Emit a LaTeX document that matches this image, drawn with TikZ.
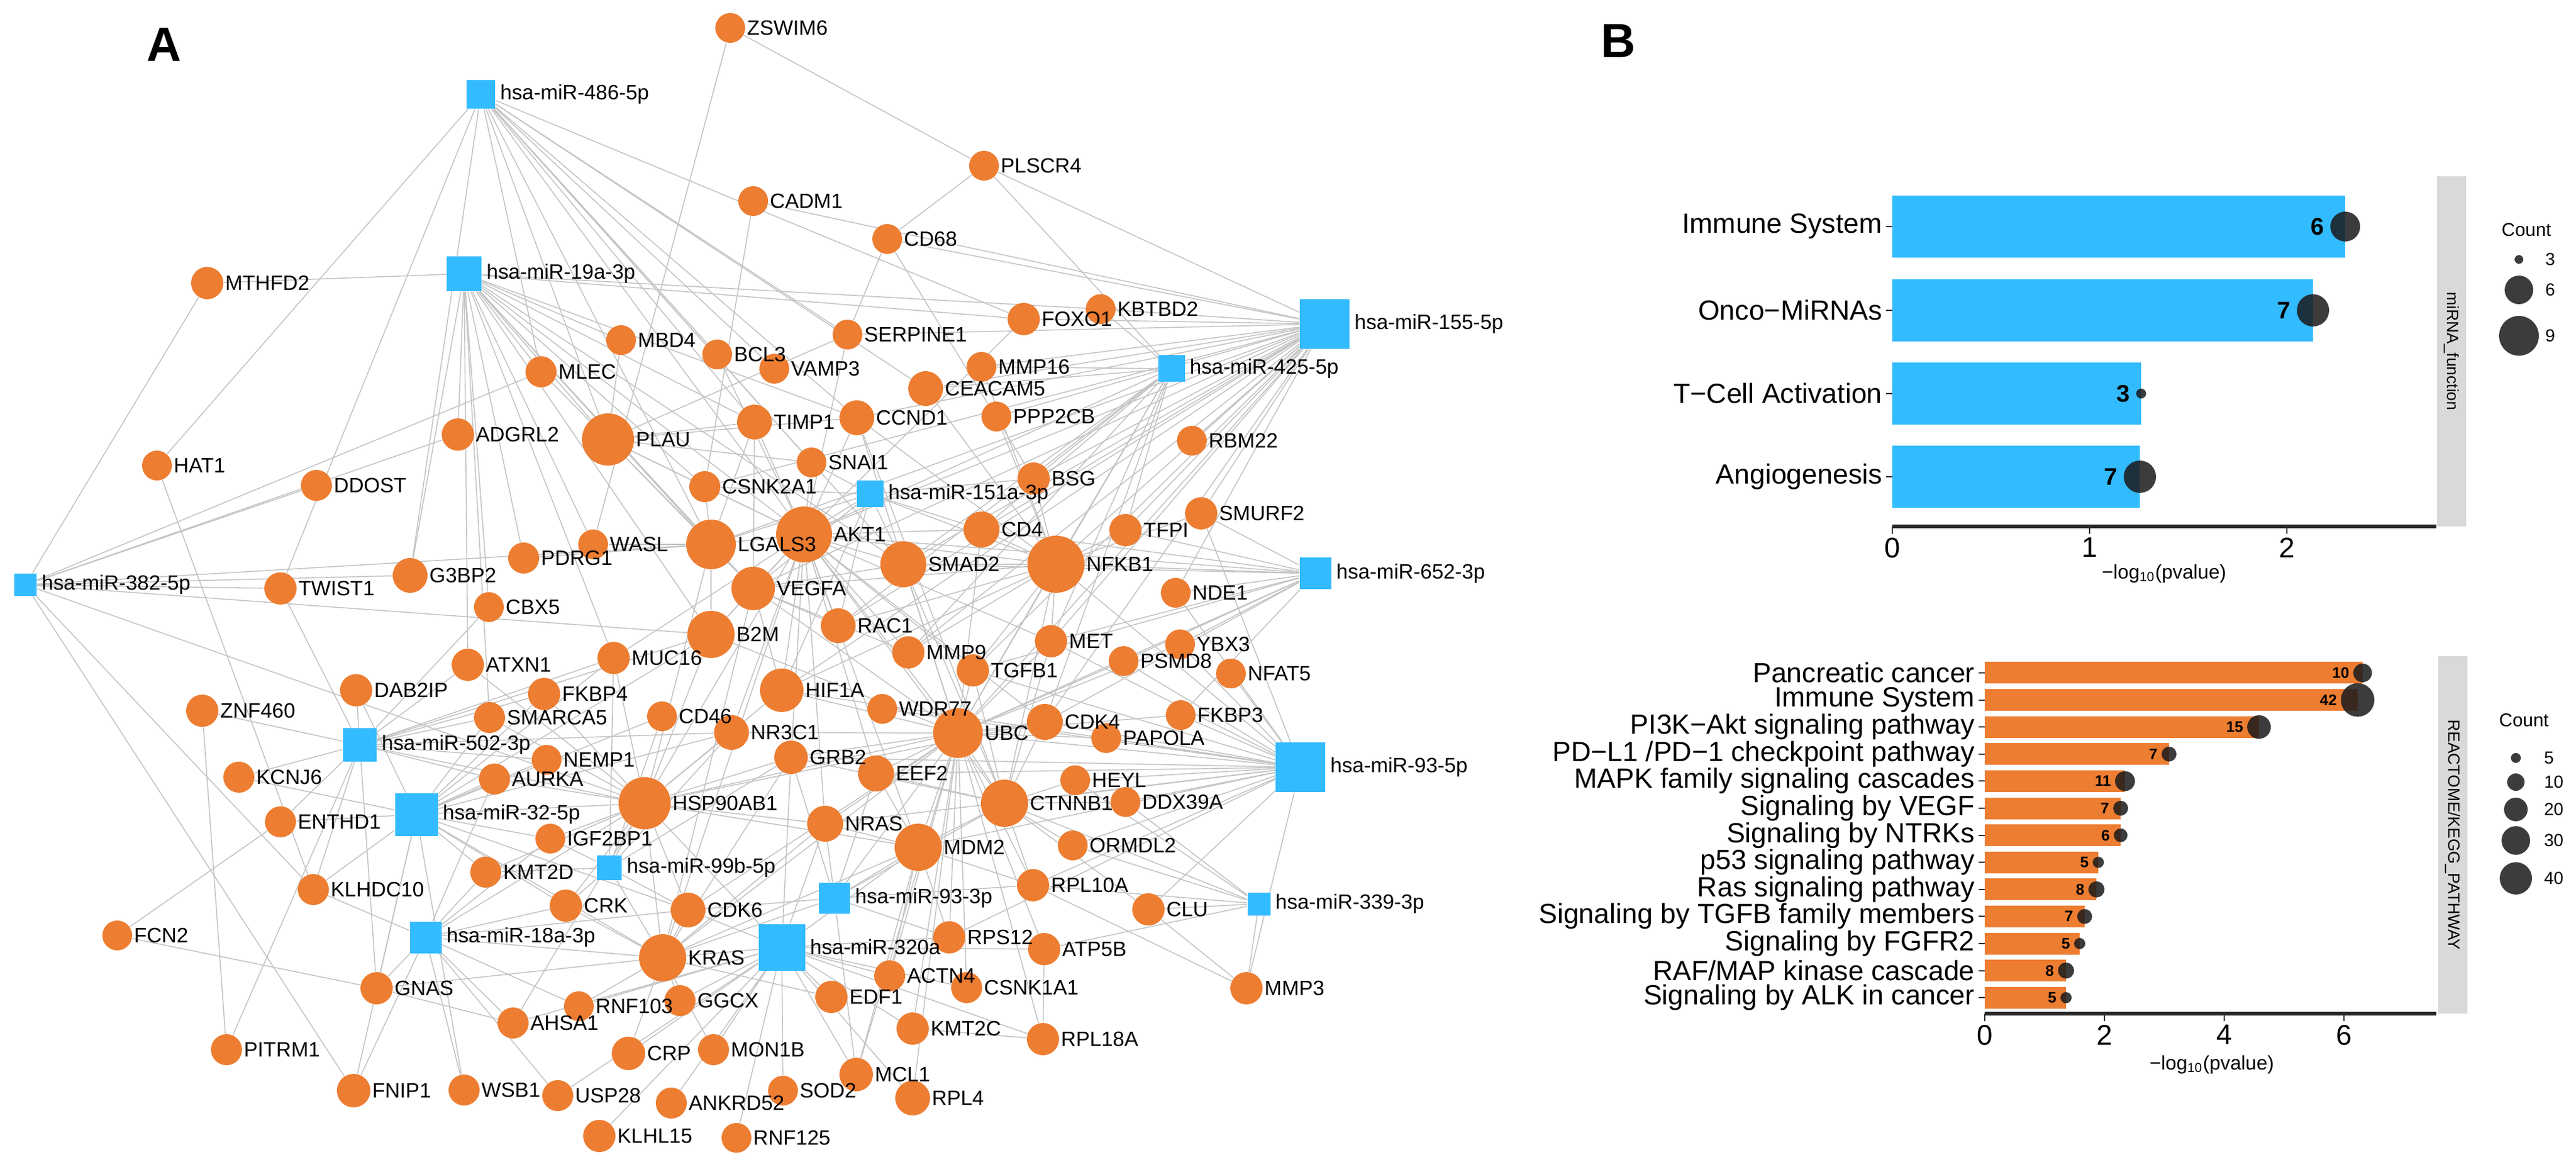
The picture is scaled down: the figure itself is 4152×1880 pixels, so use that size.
\documentclass[tikz,border=0pt]{standalone}
\usepackage{fontspec}
\setmainfont{Liberation Sans}
\usetikzlibrary{positioning}
\definecolor{gor}{HTML}{ED7D31}
\definecolor{mblue}{HTML}{33BBFF}
\definecolor{edgec}{HTML}{C4C4C4}
\definecolor{stripc}{HTML}{D9D9D9}
\definecolor{dotc}{HTML}{1A1A1A}
\pgfdeclarelayer{bg}
\pgfdeclarelayer{fg}
\pgfsetlayers{bg,main,fg}
\newcommand\gnode[4]{\node[gene,minimum size={2*#4*0.01cm}] (#1) at (#2,#3) {};\begin{pgfonlayer}{fg}\node[glab] (#1-l) at (#1.east) {#1};\end{pgfonlayer}}
\newcommand\mnode[5]{\node[mir,minimum size={#4*0.01cm}] (#1) at (#2,#3) {};\begin{pgfonlayer}{fg}\node[glab,xshift=1.5pt] (#1-l) at (#1.east) {#5};\end{pgfonlayer}}
\begin{document}
\begin{tikzpicture}[x=0.01cm,y=-0.01cm,
  gene/.style={circle,fill=gor,draw=none,inner sep=0pt},
  mir/.style={rectangle,fill=mblue,draw=none,inner sep=0pt},
  glab/.style={anchor=west,inner sep=0.5pt,font=\fontsize{9.5}{10}\selectfont},
  edge/.style={draw=edgec,line width=0.45pt},
  cat/.style={anchor=east,inner sep=1pt,font=\fontsize{12.7}{13}\selectfont},
  tick/.style={anchor=north,inner sep=1pt,font=\fontsize{13}{13}\selectfont},
  dot/.style={circle,fill=dotc,fill opacity=0.85,draw=none,inner sep=0pt},
  num/.style={anchor=east,inner sep=0.5pt,font=\bfseries\fontsize{11}{12}\selectfont},
  snum/.style={anchor=east,inner sep=0.5pt,font=\bfseries\fontsize{7}{8}\selectfont},
  leg/.style={anchor=west,inner sep=0.5pt,font=\fontsize{8}{9}\selectfont},
  panel/.style={font=\bfseries\fontsize{22}{24}\selectfont,inner sep=0pt}]
\useasboundingbox (0,0) rectangle (4152,1880);
\node[panel] (A) at (264,72) {A};
\node[panel] (B) at (2608,66) {B};
% miRNAs
\mnode{m486}{775}{152}{46}{hsa-miR-486-5p}
\mnode{m19a}{748}{441}{56}{hsa-miR-19a-3p}
\mnode{m155}{2135}{522}{80}{hsa-miR-155-5p}
\mnode{m425}{1888}{594}{43}{hsa-miR-425-5p}
\mnode{m151}{1402}{796}{43}{hsa-miR-151a-3p}
\mnode{m652}{2120}{924}{51}{hsa-miR-652-3p}
\mnode{m382}{41}{942}{36}{hsa-miR-382-5p}
\mnode{m502}{580}{1200}{54}{hsa-miR-502-3p}
\mnode{m935}{2096}{1236}{80}{hsa-miR-93-5p}
\mnode{m32}{671}{1312}{69}{hsa-miR-32-5p}
\mnode{m99b}{982}{1398}{40}{hsa-miR-99b-5p}
\mnode{m933}{1345}{1447}{50}{hsa-miR-93-3p}
\mnode{m339}{2029}{1456}{37}{hsa-miR-339-3p}
\mnode{m18a}{686}{1510}{51}{hsa-miR-18a-3p}
\mnode{m320}{1260}{1526}{75}{hsa-miR-320a}
% genes
\gnode{ZSWIM6}{1177}{45}{24}
\gnode{PLSCR4}{1586}{267}{24}
\gnode{CADM1}{1214}{324}{24}
\gnode{CD68}{1430}{385}{24}
\gnode{MTHFD2}{334}{456}{26}
\gnode{FOXO1}{1650}{514}{26}
\gnode{KBTBD2}{1774}{498}{24}
\gnode{SERPINE1}{1366}{539}{24}
\gnode{MBD4}{1001}{548}{24}
\gnode{BCL3}{1156}{571}{24}
\gnode{VAMP3}{1248}{594}{24}
\gnode{MLEC}{872}{599}{25}
\gnode{MMP16}{1582}{591}{24}
\gnode{CEACAM5}{1492}{626}{28}
\gnode{TIMP1}{1216}{680}{28}
\gnode{CCND1}{1381}{673}{28}
\gnode{PPP2CB}{1606}{671}{24}
\gnode{ADGRL2}{738}{700}{26}
\gnode{PLAU}{980}{708}{42}
\gnode{RBM22}{1921}{710}{24}
\gnode{HAT1}{253}{750}{24}
\gnode{DDOST}{510}{782}{25}
\gnode{SNAI1}{1308}{745}{24}
\gnode{CSNK2A1}{1136}{784}{25}
\gnode{BSG}{1666}{771}{26}
\gnode{SMURF2}{1936}{827}{26}
\gnode{TFPI}{1814}{854}{26}
\gnode{PDRG1}{844}{899}{25}
\gnode{WASL}{956}{877}{24}
\gnode{LGALS3}{1146}{877}{40}
\gnode{AKT1}{1296}{861}{45}
\gnode{CD4}{1582}{853}{29}
\gnode{SMAD2}{1456}{909}{37}
\gnode{NFKB1}{1702}{909}{46}
\gnode{NDE1}{1895}{955}{24}
\gnode{G3BP2}{661}{927}{28}
\gnode{TWIST1}{452}{948}{26}
\gnode{CBX5}{788}{978}{24}
\gnode{VEGFA}{1214}{948}{35}
\gnode{B2M}{1146}{1022}{38}
\gnode{RAC1}{1351}{1008}{28}
\gnode{MET}{1694}{1033}{26}
\gnode{YBX3}{1902}{1038}{24}
\gnode{PSMD8}{1811}{1065}{24}
\gnode{NFAT5}{1984}{1085}{24}
\gnode{ATXN1}{754}{1071}{26}
\gnode{MUC16}{989}{1060}{26}
\gnode{MMP9}{1464}{1051}{26}
\gnode{TGFB1}{1568}{1080}{26}
\gnode{FKBP4}{877}{1118}{26}
\gnode{DAB2IP}{574}{1112}{26}
\gnode{ZNF460}{326}{1145}{26}
\gnode{HIF1A}{1260}{1112}{35}
\gnode{SMARCA5}{789}{1156}{25}
\gnode{CD46}{1067}{1154}{24}
\gnode{NR3C1}{1179}{1180}{28}
\gnode{WDR77}{1422}{1142}{24}
\gnode{UBC}{1544}{1181}{40}
\gnode{CDK4}{1684}{1163}{29}
\gnode{FKBP3}{1903}{1152}{24}
\gnode{PAPOLA}{1783}{1189}{24}
\gnode{KCNJ6}{385}{1252}{25}
\gnode{NEMP1}{881}{1224}{24}
\gnode{AURKA}{797}{1255}{25}
\gnode{GRB2}{1275}{1220}{27}
\gnode{EEF2}{1412}{1246}{29}
\gnode{HEYL}{1733}{1257}{24}
\gnode{DDX39A}{1814}{1292}{24}
\gnode{HSP90AB1}{1039}{1294}{42}
\gnode{CTNNB1}{1619}{1294}{38}
\gnode{ENTHD1}{452}{1324}{25}
\gnode{NRAS}{1330}{1327}{29}
\gnode{MDM2}{1480}{1365}{38}
\gnode{ORMDL2}{1729}{1362}{24}
\gnode{IGF2BP1}{887}{1351}{24}
\gnode{KMT2D}{783}{1405}{25}
\gnode{KLHDC10}{505}{1433}{25}
\gnode{RPL10A}{1665}{1426}{26}
\gnode{CRK}{912}{1459}{26}
\gnode{CDK6}{1109}{1466}{28}
\gnode{CLU}{1851}{1465}{26}
\gnode{FCN2}{189}{1507}{24}
\gnode{KRAS}{1068}{1543}{38}
\gnode{RPS12}{1530}{1510}{26}
\gnode{ATP5B}{1683}{1529}{26}
\gnode{GNAS}{607}{1592}{26}
\gnode{RNF103}{933}{1621}{24}
\gnode{GGCX}{1096}{1612}{25}
\gnode{ACTN4}{1434}{1572}{25}
\gnode{CSNK1A1}{1558}{1591}{25}
\gnode{EDF1}{1340}{1606}{26}
\gnode{MMP3}{2009}{1592}{26}
\gnode{AHSA1}{827}{1648}{25}
\gnode{PITRM1}{365}{1691}{25}
\gnode{CRP}{1013}{1697}{27}
\gnode{MON1B}{1150}{1691}{25}
\gnode{KMT2C}{1471}{1657}{26}
\gnode{RPL18A}{1681}{1674}{26}
\gnode{FNIP1}{570}{1757}{27}
\gnode{WSB1}{748}{1756}{25}
\gnode{USP28}{899}{1765}{25}
\gnode{ANKRD52}{1082}{1777}{25}
\gnode{SOD2}{1262}{1757}{24}
\gnode{MCL1}{1380}{1731}{27}
\gnode{RPL4}{1471}{1769}{28}
\gnode{KLHL15}{966}{1830}{26}
\gnode{RNF125}{1187}{1833}{24}
\begin{pgfonlayer}{bg}
\foreach \a/\bs in {
 m486/{HAT1,G3BP2,MLEC,PLAU,LGALS3,AKT1,SNAI1,CCND1,CEACAM5,FOXO1,SERPINE1,TIMP1,SMAD2,BCL3,VAMP3,TWIST1},
 m19a/{MTHFD2,MLEC,MBD4,ADGRL2,PLAU,G3BP2,PDRG1,WASL,LGALS3,CSNK2A1,TIMP1,FOXO1,KBTBD2,CCND1,SMAD2,ATXN1,CBX5,AKT1,VEGFA,B2M,SMARCA5,MUC16},
 m155/{PLSCR4,CD68,KBTBD2,FOXO1,MMP16,SERPINE1,CEACAM5,CCND1,PPP2CB,BSG,CD4,NFKB1,SMAD2,AKT1,TFPI,RBM22,SMURF2,MET,UBC,CDK4,TGFB1,RAC1,CADM1,VEGFA,HIF1A,LGALS3,CSNK2A1,MMP9,NDE1},
 m425/{MMP16,CEACAM5,BSG,TFPI,NFKB1,CD4,AKT1,SMAD2,CDK4,MET,UBC,PLSCR4,KBTBD2,RAC1,MMP9},
 m151/{AKT1,SMAD2,CD4,VEGFA,LGALS3,SNAI1,CSNK2A1,NFKB1,BSG,RAC1,HIF1A},
 m652/{NFKB1,SMURF2,TFPI,NDE1,CD4,SMAD2,MET,YBX3,UBC,CDK4,PSMD8,TGFB1,AKT1,FKBP3},
 m382/{MTHFD2,TWIST1,G3BP2,MLEC,DDOST,LGALS3,B2M,KLHDC10,FNIP1,HSP90AB1,ADGRL2},
 m502/{DAB2IP,ZNF460,KCNJ6,ENTHD1,TWIST1,ATXN1,FKBP4,SMARCA5,NEMP1,AURKA,HSP90AB1,KLHDC10,GNAS,CBX5,B2M,NR3C1,MUC16,PITRM1},
 m935/{FKBP3,PAPOLA,CDK4,UBC,HEYL,DDX39A,CTNNB1,NFAT5,PSMD8,YBX3,MET,NDE1,ORMDL2,RPL10A,CLU,MDM2,MMP3,TGFB1,NFKB1,EEF2,GRB2,NRAS,SMURF2,RPS12,WDR77,HIF1A},
 m32/{DAB2IP,ENTHD1,KCNJ6,AURKA,NEMP1,IGF2BP1,KMT2D,HSP90AB1,FKBP4,SMARCA5,CRK,GNAS,KLHDC10,WSB1,FNIP1,B2M,NR3C1,MUC16,CDK6,KRAS,CD46},
 m99b/{HSP90AB1,IGF2BP1,CRK,KRAS,CDK6,NR3C1,MUC16,CD46,KMT2D,GRB2},
 m933/{MDM2,NRAS,CTNNB1,RPL10A,KRAS,CDK6,UBC,RPS12,EEF2,MCL1,GRB2},
 m339/{CLU,MMP3,RPL10A,ORMDL2,ATP5B,CTNNB1,DDX39A,HEYL},
 m18a/{GNAS,KLHDC10,KMT2D,CRK,AHSA1,RNF103,FNIP1,WSB1,USP28,KRAS,HSP90AB1,IGF2BP1,AURKA,CDK6},
 m320/{KRAS,CDK6,GGCX,CRP,MON1B,ANKRD52,SOD2,KLHL15,RNF125,EDF1,ACTN4,MCL1,RPL4,KMT2C,CSNK1A1,RPS12,ATP5B,RPL18A,MDM2,NRAS,HSP90AB1,USP28,RNF103,AHSA1,GRB2},
 AKT1/{LGALS3,VEGFA,SMAD2,NFKB1,HIF1A,CCND1,MDM2,CTNNB1,HSP90AB1,UBC,KRAS,GRB2,MET,TGFB1,MMP9,FOXO1,PLAU,TIMP1,SNAI1,CD4,RAC1,EEF2,NRAS,CDK4,B2M,CSNK2A1,BCL3,SERPINE1,MUC16,NR3C1},
 UBC/{NFKB1,SMAD2,CTNNB1,MDM2,HSP90AB1,KRAS,CDK4,EEF2,GRB2,HIF1A,NRAS,CDK6,RPS12,RPL10A,RPL4,RPL18A,MCL1,ACTN4,CSNK1A1,KMT2C,ATP5B,TGFB1,MET,PSMD8,YBX3,CD4,FKBP3,PAPOLA,B2M,VEGFA,CCND1,NR3C1},
 HSP90AB1/{KRAS,CDK6,CDK4,NR3C1,FKBP4,GRB2,HIF1A,CRK,IGF2BP1,AURKA,KMT2D,AHSA1,MDM2,NRAS,MUC16,SMARCA5,ATXN1,B2M,LGALS3},
 CTNNB1/{MDM2,TGFB1,MET,SMAD2,CDK4,CCND1,HEYL,DDX39A,ORMDL2,RPL10A,CLU,NFKB1,GRB2,EEF2},
 NFKB1/{SMAD2,CD4,TFPI,SMURF2,BSG,MET,TGFB1,CCND1,PPP2CB,MMP16,CEACAM5,HIF1A,VEGFA,RAC1,MMP9},
 VEGFA/{LGALS3,HIF1A,MMP9,PLAU,TIMP1,B2M,RAC1,SMAD2,KRAS},
 LGALS3/{PLAU,WASL,CSNK2A1,B2M,PDRG1,TIMP1},
 PLAU/{TIMP1,SERPINE1,MLEC,MBD4,CCND1,SNAI1,CSNK2A1},
 KRAS/{CDK6,NRAS,GRB2,MDM2,RNF103,GGCX,CRP,MON1B,EDF1,CRK},
 MDM2/{NRAS,RPS12,RPL10A,ACTN4,MCL1,EEF2},
 GNAS/{KRAS,AHSA1,FCN2},
 ZSWIM6/{PLSCR4,WASL},
 CD68/{BSG,SERPINE1,PLSCR4},
 CADM1/{CSNK2A1},
 FCN2/{ENTHD1},
 PITRM1/{ZNF460},
 HAT1/{KLHDC10},
 MMP3/{CLU,RPL10A},
 RPL18A/{KMT2C,ATP5B}}
 {\foreach \b in \bs {\draw[edge] (\a) -- (\b);}}
\end{pgfonlayer}
% ===== Panel B top =====
\node[anchor=center,fill=stripc,minimum width={47*0.01cm},minimum height={564*0.01cm},inner sep=0pt] (strip1) at (3951,566) {};
\node[rotate=-90,font=\fontsize{7.5}{8}\selectfont,inner sep=0pt] (strip1t) at (3951,566) {miRNA\_function};
\foreach \lab/\e/\c/\r/\y [count=\i] in {Immune System/3780/6/24/365, Onco−MiRNAs/3728/7/26/500, T−Cell Activation/3451/3/8/634, Angiogenesis/3449/7/26/768}{
  \fill[mblue] (3050,\y-50) rectangle (\e,\y+50);
  \draw[line width=0.6pt,black!80] (3040,\y) -- (3050,\y);
  \node[cat] (tc\i) at (3038,\y) {\lab};
  \node[dot,minimum size={2*\r*0.01cm}] (td\i) at (\e,\y) {};
  \node[num] (tn\i) at (\e-\r-8,\y) {\c};
}
\draw[line width=1.6pt,black!85] (3050,848) -- (3927,848);
\foreach \v/\xx [count=\i] in {0/3050,1/3368,2/3686}{
  \draw[line width=0.6pt,black!80] (\xx,848) -- (\xx,860);
  \node[tick] (tt\i) at (\xx,862) {\v};
}
\node[font=\fontsize{9}{10}\selectfont,inner sep=0pt] (txl) at (3488,924) {−log\textsubscript{10}(pvalue)};
\node[font=\fontsize{8.5}{9}\selectfont,inner sep=0pt] (tlc) at (4072,370) {Count};
\foreach \c/\r/\y [count=\i] in {3/7/418,6/23/467,9/32/541}{
  \node[dot,minimum size={2*\r*0.01cm}] (tld\i) at (4060,\y) {};
  \node[leg] (tll\i) at (4100,\y) {\c};
}
% ===== Panel B bottom =====
\node[anchor=center,fill=stripc,minimum width={47*0.01cm},minimum height={576*0.01cm},inner sep=0pt] (strip2) at (3953,1345) {};
\node[rotate=-90,font=\fontsize{7.5}{8}\selectfont,inner sep=0pt] (strip2t) at (3953,1345) {REACTOME/KEGG\_PATHWAY};
\foreach \lab/\e/\c/\r [count=\i from 0] in {
 {Pancreatic cancer}/3808/10/15,
 {Immune System}/3800/42/27,
 {PI3K−Akt signaling pathway}/3641/15/19,
 {PD−L1 /PD−1 checkpoint pathway}/3496/7/12,
 {MAPK family signaling cascades}/3425/11/16,
 {Signaling by VEGF}/3418/7/12,
 {Signaling by NTRKs}/3418/6/11,
 {p53 signaling pathway}/3382/5/9,
 {Ras signaling pathway}/3379/8/13,
 {Signaling by TGFB family members}/3360/7/12,
 {Signaling by FGFR2}/3352/5/9,
 {RAF/MAP kinase cascade}/3330/8/13,
 {Signaling by ALK in cancer}/3330/5/9}{
  \pgfmathsetmacro\yy{1084+\i*43.6}
  \fill[gor] (3199,\yy-17.5) rectangle (\e,\yy+17.5);
  \draw[line width=0.6pt,black!80] (3189,\yy) -- (3199,\yy);
  \node[cat] (bc\i) at (3187,\yy) {\lab};
  \node[dot,minimum size={2*\r*0.01cm}] (bd\i) at (\e,\yy) {};
  \node[snum] (bn\i) at (\e-\r-4,\yy) {\c};
}
\draw[line width=1.6pt,black!85] (3199,1633) -- (3927,1633);
\foreach \v [count=\i] in {0,2,4,6}{
  \pgfmathsetmacro\xx{3199+\v*96.5}
  \draw[line width=0.6pt,black!80] (\xx,1633) -- (\xx,1645);
  \node[tick] (bt\i) at (\xx,1647) {\v};
}
\node[font=\fontsize{9}{10}\selectfont,inner sep=0pt] (bxl) at (3565,1715) {−log\textsubscript{10}(pvalue)};
\node[font=\fontsize{8.5}{9}\selectfont,inner sep=0pt] (blc) at (4068,1160) {Count};
\foreach \c/\r/\y [count=\i] in {5/8/1221,10/14/1260,20/19/1304,30/23/1354,40/26/1415}{
  \node[dot,minimum size={2*\r*0.01cm}] (bld\i) at (4055,\y) {};
  \node[leg] (bll\i) at (4098,\y) {\c};
}
\end{tikzpicture}
\end{document}
